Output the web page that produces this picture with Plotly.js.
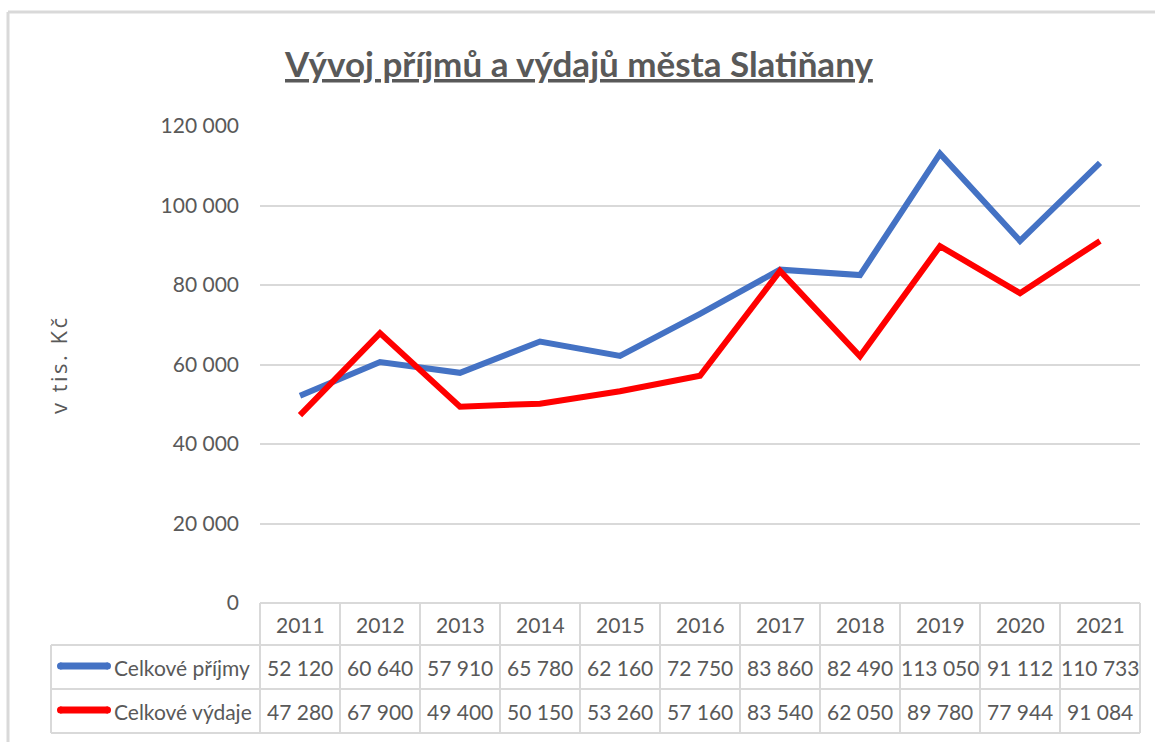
<!DOCTYPE html>
<html>
<head>
<meta charset="utf-8">
<script src="https://cdn.plot.ly/plotly-3.0.1.min.js"></script>
<style>html,body{margin:0;padding:0;background:#fff;}#chart{width:1155px;height:742px;}</style>
</head>
<body>
<div id="chart"></div>
<script>
// ---- data ----
const years = ["2011","2012","2013","2014","2015","2016","2017","2018","2019","2020","2021"];
const seriesNames = ["Celkové příjmy", "Celkové výdaje"];
const prijmy = [52120, 60640, 57910, 65780, 62160, 72750, 83860, 82490, 113050, 91112, 110733];
const vydaje = [47280, 67900, 49400, 50150, 53260, 57160, 83540, 62050, 89780, 77944, 91084];
const yTicks = [0, 20000, 40000, 60000, 80000, 100000, 120000];
const titleText = "Vývoj příjmů a výdajů města Slatiňany";
const yTitle = "v tis. Kč";

// ---- geometry (pixels) ----
const L = 260, R = 1140, T = 126, B = 603;
const W = R - L, H = B - T;
const px = x => (x - L) / W;
const py = y => (B - y) / H;
const FONT = "Lato, Carlito, Calibri, sans-serif";
const TXT = "#595959";
const GRID = "#d9d9d9";
const BLUE = "#4472C4", RED = "#FF0000";
const fmt = v => String(v).replace(/\B(?=(\d{3})+(?!\d))/g, " ");

const traces = [
  {x: years, y: prijmy, name: seriesNames[0], type: "scatter", mode: "lines",
   line: {color: BLUE, width: 6}, hoverinfo: "skip"},
  {x: years, y: vydaje, name: seriesNames[1], type: "scatter", mode: "lines",
   line: {color: RED, width: 6}, hoverinfo: "skip"}
];

const shapes = [];
const annotations = [];
const hl = (x0, x1, y, c, w) => shapes.push({type: "line", xref: "paper", yref: "paper",
  x0: px(x0), x1: px(x1), y0: py(y), y1: py(y), line: {color: c || GRID, width: w || 2}, layer: "above"});
const vl = (x, y0, y1, c, w) => shapes.push({type: "line", xref: "paper", yref: "paper",
  x0: px(x), x1: px(x), y0: py(y0), y1: py(y1), line: {color: c || GRID, width: w || 2}, layer: "above"});

// outer frame
hl(8, 1160, 12, "#d9d9d9", 3);
vl(8, 12, 745, "#d9d9d9", 3);

// data table grid
const rowTop = 603, r1 = 645, r2 = 689, rowBot = 733, legL = 51;
hl(L, R, rowTop);
hl(legL, R, r1);
hl(legL, R, r2);
hl(legL, R, rowBot);
vl(legL, r1, rowBot);
vl(L, rowTop, rowBot);
for (let k = 1; k <= years.length; k++) vl(L + k * (W / years.length), rowTop, rowBot);

const colX = i => px(L + (i + 0.5) * (W / years.length));
const cellFont = {family: FONT, size: 21, color: TXT};
years.forEach((yr, i) => {
  annotations.push({xref: "paper", yref: "paper", x: colX(i), y: py(624), text: yr,
    showarrow: false, xanchor: "center", yanchor: "middle", font: cellFont});
  annotations.push({xref: "paper", yref: "paper", x: colX(i), y: py(667), text: fmt(prijmy[i]),
    showarrow: false, xanchor: "center", yanchor: "middle", font: cellFont});
  annotations.push({xref: "paper", yref: "paper", x: colX(i), y: py(711), text: fmt(vydaje[i]),
    showarrow: false, xanchor: "center", yanchor: "middle", font: cellFont});
});

// legend keys in table
[[BLUE, 666, seriesNames[0]], [RED, 710, seriesNames[1]]].forEach(([c, y, name]) => {
  hl(60, 108, y, c, 7);
  shapes.push({type: "circle", xref: "paper", yref: "paper", x0: px(57), x1: px(64), y0: py(y + 3.5), y1: py(y - 3.5), fillcolor: c, line: {width: 0}});
  shapes.push({type: "circle", xref: "paper", yref: "paper", x0: px(104), x1: px(111), y0: py(y + 3.5), y1: py(y - 3.5), fillcolor: c, line: {width: 0}});
  annotations.push({xref: "paper", yref: "paper", x: px(112), y: py(y + 1), text: name,
    showarrow: false, xanchor: "left", yanchor: "middle", font: cellFont});
});

// title
annotations.push({xref: "paper", yref: "paper", x: px(578), y: py(63), text: "<b><u>" + titleText + "</u></b>",
  showarrow: false, xanchor: "center", yanchor: "middle", font: {family: FONT, size: 35, color: TXT}});

// y-axis title
annotations.push({xref: "paper", yref: "paper", x: px(58), y: py(365),
  text: '<span style="letter-spacing:2.5px">' + yTitle + '</span>', textangle: -90,
  showarrow: false, xanchor: "center", yanchor: "middle", font: {family: "Open Sans, sans-serif", size: 22, color: TXT}});

const layout = {
  width: 1155, height: 742,
  margin: {l: L, r: 1155 - R, t: T, b: 742 - B, pad: 0},
  paper_bgcolor: "#fff", plot_bgcolor: "#fff",
  showlegend: false,
  separators: ", ",
  xaxis: {type: "category", range: [-0.5, years.length - 0.5], showticklabels: false,
    showgrid: false, zeroline: false, showline: false, ticks: "", fixedrange: true},
  yaxis: {range: [0, 120000], tickvals: yTicks, tickformat: ",d", showgrid: true, gridcolor: GRID, gridwidth: 2,
    zeroline: false, showline: false, ticks: "", ticklabelstandoff: 20,
    tickfont: {family: FONT, size: 21, color: TXT}, fixedrange: true},
  shapes: shapes,
  annotations: annotations
};

Plotly.newPlot("chart", traces, layout, {displayModeBar: false, staticPlot: true});
</script>
</body>
</html>
